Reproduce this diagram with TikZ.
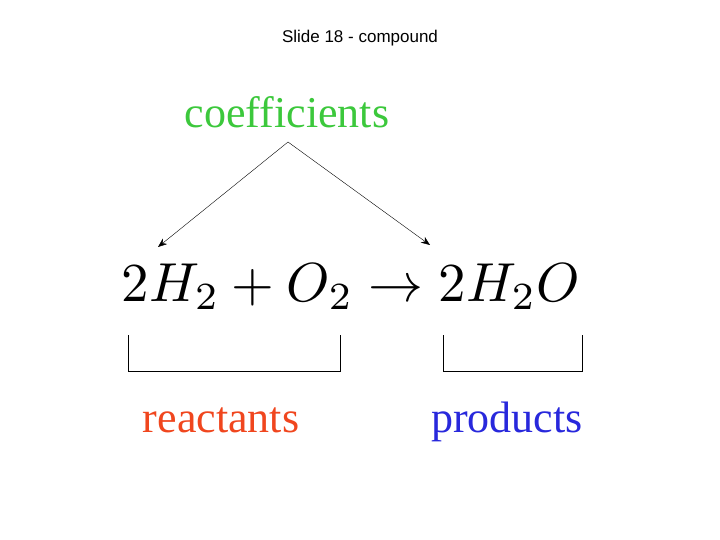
\documentclass[tikz,border=0pt]{standalone}
\usepackage{fontspec}
\usepackage{graphicx}
\newfontfamily\arial{Liberation Sans}
\newfontfamily\serif{Liberation Serif}
\usetikzlibrary{arrows.meta}
\begin{document}
\begin{tikzpicture}[x=1pt,y=-1pt,
  word/.style={font=\serif\fontsize{44}{46}\selectfont,inner sep=0pt},
  arr/.style={-{Stealth[length=9pt,width=7pt]},thin},
  brk/.style={thin}]
\useasboundingbox (0,0) rectangle (720,540);
\node[font=\arial\fontsize{17}{19}\selectfont] (t) at (360,38) {Slide 18 - compound};
\node[word,text={rgb,255:red,60;green,200;blue,60}] (c) at (287,112) {coefficients};
\coordinate (top) at (288,142);
\coordinate (l) at (158,247);
\coordinate (r) at (430,245);
\draw[arr] (top) -- (l);
\draw[arr] (top) -- (r);
\node[inner sep=0pt,anchor=base] (eq) at (351,301) {\resizebox{458pt}{!}{$2H_2+O_2\rightarrow 2H_2O$}};
\coordinate (a1) at (128,335); \coordinate (a2) at (340,335);
\coordinate (b1) at (443,335); \coordinate (b2) at (582,335);
\draw[brk] (a1) -- (128,371) -- (340,371) -- (a2);
\draw[brk] (b1) -- (443,371) -- (582,371) -- (b2);
\node[word,text={rgb,255:red,240;green,70;blue,30}] (re) at (221,420) {reactants};
\node[word,text={rgb,255:red,40;green,40;blue,220}] (pr) at (507,422) {products};
\end{tikzpicture}
\end{document}
